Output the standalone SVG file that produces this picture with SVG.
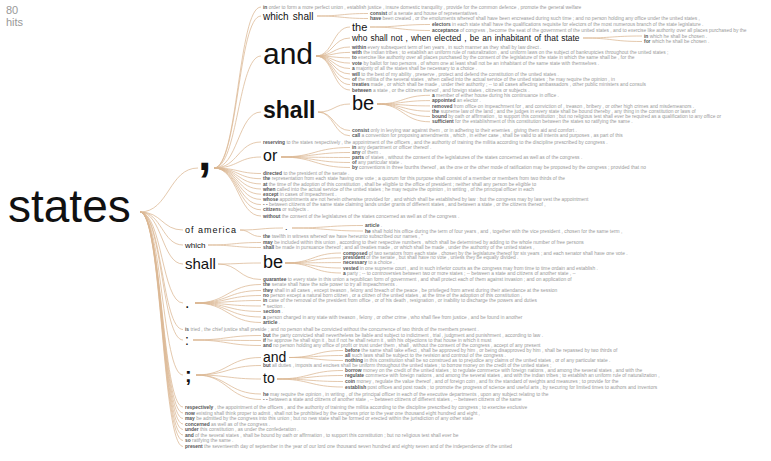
<svg xmlns="http://www.w3.org/2000/svg" width="771" height="461" viewBox="0 0 771 461">
<style>
text{font-family:"Liberation Sans",Arial,sans-serif}
.lf{font-size:4.9px;fill:#9a9a9a}
.lf tspan{font-weight:bold;fill:#555}
.nd{fill:#111}
.hits{font-size:11px;fill:#999}
#links path{fill:none;stroke:#dbb894;stroke-width:0.9;stroke-opacity:0.85}
</style>
<rect width="771" height="461" fill="#fff"/>
<text class="hits" x="6" y="14">80</text>
<text class="hits" x="6" y="26">hits</text>
<g id="links">
<path d="M140,212C169,212 169,168 198,168"/>
<path d="M140,212C162,212 162,230 183,230"/>
<path d="M140,212C162,212 162,245 183,245"/>
<path d="M140,212C162,212 162,264 183,264"/>
<path d="M140,212C162,212 162,303 183,303"/>
<path d="M140,212C162,212 162,329.5 183,329.5"/>
<path d="M140,212C162,212 162,340 183,340"/>
<path d="M140,212C162,212 162,375 183,375"/>
<path d="M140,212C162,212 162,407 183,407"/>
<path d="M140,212C162,212 162,413 183,413"/>
<path d="M140,212C162,212 162,418.5 183,418.5"/>
<path d="M140,212C162,212 162,424 183,424"/>
<path d="M140,212C162,212 162,429.5 183,429.5"/>
<path d="M140,212C162,212 162,435 183,435"/>
<path d="M140,212C162,212 162,440.5 183,440.5"/>
<path d="M140,212C162,212 162,446.5 183,446.5"/>
<path d="M214,168C238,168 238,7 261,7"/>
<path d="M214,168C238,168 238,16 261,16"/>
<path d="M214,168C238,168 238,56 261,56"/>
<path d="M214,168C238,168 238,112 261,112"/>
<path d="M214,168C238,168 238,142 261,142"/>
<path d="M214,168C238,168 238,157 261,157"/>
<path d="M214,168C238,168 238,173.5 261,173.5"/>
<path d="M214,168C238,168 238,178.7 261,178.7"/>
<path d="M214,168C238,168 238,183.9 261,183.9"/>
<path d="M214,168C238,168 238,189 261,189"/>
<path d="M214,168C238,168 238,194.2 261,194.2"/>
<path d="M214,168C238,168 238,199.4 261,199.4"/>
<path d="M214,168C238,168 238,204.6 261,204.6"/>
<path d="M214,168C238,168 238,209.8 261,209.8"/>
<path d="M214,168C238,168 238,216 261,216"/>
<path d="M317,16C342,16 342,13.5 368,13.5"/>
<path d="M317,16C342,16 342,18.5 368,18.5"/>
<path d="M316,56C333,56 333,27 350,27"/>
<path d="M316,56C333,56 333,38 350,38"/>
<path d="M316,56C333,56 333,47 350,47"/>
<path d="M316,56C333,56 333,52.4 350,52.4"/>
<path d="M316,56C333,56 333,57.8 350,57.8"/>
<path d="M316,56C333,56 333,63.1 350,63.1"/>
<path d="M316,56C333,56 333,68.5 350,68.5"/>
<path d="M316,56C333,56 333,73.9 350,73.9"/>
<path d="M316,56C333,56 333,79.3 350,79.3"/>
<path d="M316,56C333,56 333,84.6 350,84.6"/>
<path d="M316,56C333,56 333,90 350,90"/>
<path d="M370,27C400,27 400,24.5 430,24.5"/>
<path d="M370,27C400,27 400,30.5 430,30.5"/>
<path d="M583,38C612,38 612,36 642,36"/>
<path d="M583,38C612,38 612,41.5 642,41.5"/>
<path d="M318,112C334,112 334,104 350,104"/>
<path d="M318,112C334,112 334,130.5 350,130.5"/>
<path d="M318,112C334,112 334,135.8 350,135.8"/>
<path d="M377,104C403,104 403,95.3 430,95.3"/>
<path d="M377,104C403,104 403,100.6 430,100.6"/>
<path d="M377,104C403,104 403,105.9 430,105.9"/>
<path d="M377,104C403,104 403,111.2 430,111.2"/>
<path d="M377,104C403,104 403,116.5 430,116.5"/>
<path d="M377,104C403,104 403,121.8 430,121.8"/>
<path d="M281,157C315,157 315,147.5 350,147.5"/>
<path d="M281,157C315,157 315,152.5 350,152.5"/>
<path d="M281,157C315,157 315,157.5 350,157.5"/>
<path d="M281,157C315,157 315,162.5 350,162.5"/>
<path d="M281,157C315,157 315,167.5 350,167.5"/>
<path d="M240,230C261,230 261,228 283,228"/>
<path d="M240,230C250,230 250,236.5 261,236.5"/>
<path d="M292,228C327,228 327,225.5 363,225.5"/>
<path d="M292,228C327,228 327,231 363,231"/>
<path d="M208,245C234,245 234,242.5 261,242.5"/>
<path d="M208,245C234,245 234,247.5 261,247.5"/>
<path d="M218,264C239,264 239,263 261,263"/>
<path d="M218,264C239,264 239,279.5 261,279.5"/>
<path d="M285,263C313,263 313,253 341,253"/>
<path d="M285,263C313,263 313,257.8 341,257.8"/>
<path d="M285,263C313,263 313,262.6 341,262.6"/>
<path d="M285,263C313,263 313,268 341,268"/>
<path d="M285,263C313,263 313,273 341,273"/>
<path d="M195,303C228,303 228,284.5 261,284.5"/>
<path d="M195,303C228,303 228,290.5 261,290.5"/>
<path d="M195,303C228,303 228,295.5 261,295.5"/>
<path d="M195,303C228,303 228,300.5 261,300.5"/>
<path d="M195,303C228,303 228,306 261,306"/>
<path d="M195,303C228,303 228,311.5 261,311.5"/>
<path d="M195,303C228,303 228,317 261,317"/>
<path d="M195,303C228,303 228,322.5 261,322.5"/>
<path d="M193,340C227,340 227,335.5 261,335.5"/>
<path d="M193,340C227,340 227,340.5 261,340.5"/>
<path d="M193,340C227,340 227,345.5 261,345.5"/>
<path d="M196,375C228,375 228,357.5 261,357.5"/>
<path d="M196,375C228,375 228,365.5 261,365.5"/>
<path d="M196,375C228,375 228,379 261,379"/>
<path d="M196,375C228,375 228,394 261,394"/>
<path d="M196,375C228,375 228,399.5 261,399.5"/>
<path d="M289,357.5C316,357.5 316,350.5 343,350.5"/>
<path d="M289,357.5C316,357.5 316,355.5 343,355.5"/>
<path d="M289,357.5C316,357.5 316,360.5 343,360.5"/>
<path d="M277,379C310,379 310,370.5 343,370.5"/>
<path d="M277,379C310,379 310,375.5 343,375.5"/>
<path d="M277,379C310,379 310,381.5 343,381.5"/>
<path d="M277,379C310,379 310,387 343,387"/>
</g>
<g id="n-states"><text class="nd" x="8" y="222" font-size="46">states</text></g>
<g id="n-comma"><text class="nd" x="198" y="170" font-size="48" font-weight="bold">,</text></g>
<g id="n-which-shall"><text class="nd" x="263" y="19.5" font-size="10" word-spacing="1.5">which shall</text></g>
<g id="n-and"><text class="nd" x="263" y="64" font-size="30">and</text></g>
<g id="n-the"><text class="nd" x="352" y="30.5" font-size="11">the</text></g>
<g id="n-who"><text class="nd" x="352" y="41" font-size="8.4" word-spacing="0.8">who shall not , when elected , be an inhabitant of that state</text></g>
<g id="n-shall-1"><text class="nd" x="263" y="118" font-size="23" font-weight="bold">shall</text></g>
<g id="n-be-1"><text class="nd" x="352" y="110" font-size="20">be</text></g>
<g id="n-or"><text class="nd" x="263" y="161" font-size="16">or</text></g>
<g id="n-of-america"><text class="nd" x="185" y="233" font-size="9" letter-spacing="1">of america</text></g>
<g id="n-dot-2"><text class="nd" x="285" y="230" font-size="9">.</text></g>
<g id="n-which"><text x="185" y="248" font-size="8" fill="#111">which</text></g>
<g id="n-shall-2"><text class="nd" x="185" y="269" font-size="15">shall</text></g>
<g id="n-be-2"><text class="nd" x="263" y="268" font-size="18">be</text></g>
<g id="n-dot"><text class="nd" x="185" y="308" font-size="16">.</text></g>
<g id="n-colon"><text class="nd" x="185" y="345" font-size="14">:</text></g>
<g id="n-semicolon"><text class="nd" x="185" y="382" font-size="20" font-weight="bold">;</text></g>
<g id="n-and-2"><text class="nd" x="263" y="361.5" font-size="14">and</text></g>
<g id="n-to"><text class="nd" x="263" y="383" font-size="14">to</text></g>
<g id="leaf-01"><text class="lf" x="263" y="8.6"><tspan>in</tspan> order to form a more perfect union , establish justice , insure domestic tranquility , provide for the common defence , promote the general welfare</text></g>
<g id="leaf-02"><text class="lf" x="370" y="15.1"><tspan>consist</tspan> of a senate and house of representatives .</text></g>
<g id="leaf-03"><text class="lf" x="370" y="20.1"><tspan>have</tspan> been created , or the emoluments whereof shall have been encreased during such time ; and no person holding any office under the united states ,</text></g>
<g id="leaf-04"><text class="lf" x="432" y="26.1"><tspan>electors</tspan> in each state shall have the qualifications requisite for electors of the most numerous branch of the state legislature .</text></g>
<g id="leaf-05"><text class="lf" x="432" y="32.1"><tspan>acceptance</tspan> of congress , become the seat of the government of the united states , and to exercise like authority over all places purchased by the</text></g>
<g id="leaf-06"><text class="lf" x="644" y="37.6"><tspan>in</tspan> which he shall be chosen .</text></g>
<g id="leaf-07"><text class="lf" x="644" y="43.1"><tspan>for</tspan> which he shall be chosen .</text></g>
<g id="leaf-08"><text class="lf" x="352" y="48.6"><tspan>within</tspan> every subsequent term of ten years , in such manner as they shall by law direct .</text></g>
<g id="leaf-09"><text class="lf" x="352" y="54"><tspan>with</tspan> the indian tribes ; to establish an uniform rule of naturalization , and uniform laws on the subject of bankruptcies throughout the united states ;</text></g>
<g id="leaf-10"><text class="lf" x="352" y="59.4"><tspan>to</tspan> exercise like authority over all places purchased by the consent of the legislature of the state in which the same shall be , for the</text></g>
<g id="leaf-11"><text class="lf" x="352" y="64.7"><tspan>vote</tspan> by ballot for two persons , of whom one at least shall not be an inhabitant of the same state with themselves .</text></g>
<g id="leaf-12"><text class="lf" x="352" y="70.1"><tspan>a</tspan> majority of all the states shall be necessary to a choice .</text></g>
<g id="leaf-13"><text class="lf" x="352" y="75.5"><tspan>will</tspan> to the best of my ability , preserve , protect and defend the constitution of the united states .</text></g>
<g id="leaf-14"><text class="lf" x="352" y="80.9"><tspan>of</tspan> the militia of the several states , when called into the actual service of the united states ; he may require the opinion , in</text></g>
<g id="leaf-15"><text class="lf" x="352" y="86.2"><tspan>treaties</tspan> made , or which shall be made , under their authority ; -- to all cases affecting ambassadors , other public ministers and consuls</text></g>
<g id="leaf-16"><text class="lf" x="352" y="91.6"><tspan>between</tspan> a state , or the citizens thereof , and foreign states , citizens or subjects .</text></g>
<g id="leaf-17"><text class="lf" x="432" y="96.9"><tspan>a</tspan> member of either house during his continuance in office .</text></g>
<g id="leaf-18"><text class="lf" x="432" y="102.2"><tspan>appointed</tspan> an elector .</text></g>
<g id="leaf-19"><text class="lf" x="432" y="107.5"><tspan>removed</tspan> from office on impeachment for , and conviction of , treason , bribery , or other high crimes and misdemeanors .</text></g>
<g id="leaf-20"><text class="lf" x="432" y="112.8"><tspan>the</tspan> supreme law of the land ; and the judges in every state shall be bound thereby , any thing in the constitution or laws of</text></g>
<g id="leaf-21"><text class="lf" x="432" y="118.1"><tspan>bound</tspan> by oath or affirmation , to support this constitution ; but no religious test shall ever be required as a qualification to any office or</text></g>
<g id="leaf-22"><text class="lf" x="432" y="123.4"><tspan>sufficient</tspan> for the establishment of this constitution between the states so ratifying the same .</text></g>
<g id="leaf-23"><text class="lf" x="352" y="132.1"><tspan>consist</tspan> only in levying war against them , or in adhering to their enemies , giving them aid and comfort .</text></g>
<g id="leaf-24"><text class="lf" x="352" y="137.4"><tspan>call</tspan> a convention for proposing amendments , which , in either case , shall be valid to all intents and purposes , as part of this</text></g>
<g id="leaf-25"><text class="lf" x="263" y="143.6"><tspan>reserving</tspan> to the states respectively , the appointment of the officers , and the authority of training the militia according to the discipline prescribed by congress .</text></g>
<g id="leaf-26"><text class="lf" x="352" y="149.1"><tspan>in</tspan> any department or officer thereof .</text></g>
<g id="leaf-27"><text class="lf" x="352" y="154.1"><tspan>any</tspan> of them .</text></g>
<g id="leaf-28"><text class="lf" x="352" y="159.1"><tspan>parts</tspan> of states , without the consent of the legislatures of the states concerned as well as of the congress .</text></g>
<g id="leaf-29"><text class="lf" x="352" y="164.1"><tspan>of</tspan> any particular state .</text></g>
<g id="leaf-30"><text class="lf" x="352" y="169.1"><tspan>by</tspan> conventions in three fourths thereof , as the one or the other mode of ratification may be proposed by the congress ; provided that no</text></g>
<g id="leaf-31"><text class="lf" x="263" y="175.1"><tspan>directed</tspan> to the president of the senate .</text></g>
<g id="leaf-32"><text class="lf" x="263" y="180.3"><tspan>the</tspan> representation from each state having one vote ; a quorum for this purpose shall consist of a member or members from two thirds of the</text></g>
<g id="leaf-33"><text class="lf" x="263" y="185.5"><tspan>at</tspan> the time of the adoption of this constitution , shall be eligible to the office of president ; neither shall any person be eligible to</text></g>
<g id="leaf-34"><text class="lf" x="263" y="190.6"><tspan>when</tspan> called into the actual service of the united states ; he may require the opinion , in writing , of the principal officer in each</text></g>
<g id="leaf-35"><text class="lf" x="263" y="195.8"><tspan>except</tspan> in cases of impeachment .</text></g>
<g id="leaf-36"><text class="lf" x="263" y="201"><tspan>whose</tspan> appointments are not herein otherwise provided for , and which shall be established by law : but the congress may by law vest the appointment</text></g>
<g id="leaf-37"><text class="lf" x="263" y="206.2"><tspan>- -</tspan> between citizens of the same state claiming lands under grants of different states , and between a state , or the citizens thereof ,</text></g>
<g id="leaf-38"><text class="lf" x="263" y="211.4"><tspan>citizens</tspan> or subjects .</text></g>
<g id="leaf-39"><text class="lf" x="263" y="217.6"><tspan>without</tspan> the consent of the legislatures of the states concerned as well as of the congress .</text></g>
<g id="leaf-40"><text class="lf" x="365" y="227.1"><tspan>article</tspan> .</text></g>
<g id="leaf-41"><text class="lf" x="365" y="232.6"><tspan>he</tspan> shall hold his office during the term of four years , and , together with the vice president , chosen for the same term ,</text></g>
<g id="leaf-42"><text class="lf" x="263" y="238.1"><tspan>the</tspan> twelfth in witness whereof we have hereunto subscribed our names , "</text></g>
<g id="leaf-43"><text class="lf" x="263" y="244.1"><tspan>may</tspan> be included within this union , according to their respective numbers , which shall be determined by adding to the whole number of free persons</text></g>
<g id="leaf-44"><text class="lf" x="263" y="249.1"><tspan>shall</tspan> be made in pursuance thereof ; and all treaties made , or which shall be made , under the authority of the united states ,</text></g>
<g id="leaf-45"><text class="lf" x="343" y="254.6"><tspan>composed</tspan> of two senators from each state , chosen by the legislature thereof for six years ; and each senator shall have one vote .</text></g>
<g id="leaf-46"><text class="lf" x="343" y="259.4"><tspan>president</tspan> of the senate , but shall have no vote , unless they be equally divided .</text></g>
<g id="leaf-47"><text class="lf" x="343" y="264.2"><tspan>necessary</tspan> to a choice .</text></g>
<g id="leaf-48"><text class="lf" x="343" y="269.6"><tspan>vested</tspan> in one supreme court , and in such inferior courts as the congress may from time to time ordain and establish .</text></g>
<g id="leaf-49"><text class="lf" x="343" y="274.6"><tspan>a</tspan> party ; -- to controversies between two or more states ; -- between a state and citizens of another state , --</text></g>
<g id="leaf-50"><text class="lf" x="263" y="281.1"><tspan>guarantee</tspan> to every state in this union a republican form of government , and shall protect each of them against invasion ; and on application of</text></g>
<g id="leaf-51"><text class="lf" x="263" y="286.1"><tspan>the</tspan> senate shall have the sole power to try all impeachments .</text></g>
<g id="leaf-52"><text class="lf" x="263" y="292.1"><tspan>they</tspan> shall in all cases , except treason , felony and breach of the peace , be privileged from arrest during their attendance at the session</text></g>
<g id="leaf-53"><text class="lf" x="263" y="297.1"><tspan>no</tspan> person except a natural born citizen , or a citizen of the united states , at the time of the adoption of this constitution ,</text></g>
<g id="leaf-54"><text class="lf" x="263" y="302.1"><tspan>in</tspan> case of the removal of the president from office , or of his death , resignation , or inability to discharge the powers and duties</text></g>
<g id="leaf-55"><text class="lf" x="263" y="307.6"><tspan>"</tspan> section .</text></g>
<g id="leaf-56"><text class="lf" x="263" y="313.1"><tspan>section</tspan> .</text></g>
<g id="leaf-57"><text class="lf" x="263" y="318.6"><tspan>a</tspan> person charged in any state with treason , felony , or other crime , who shall flee from justice , and be found in another</text></g>
<g id="leaf-58"><text class="lf" x="263" y="324.1"><tspan>article</tspan> .</text></g>
<g id="leaf-59"><text class="lf" x="185" y="331.1"><tspan>is</tspan> tried , the chief justice shall preside ; and no person shall be convicted without the concurrence of two thirds of the members present .</text></g>
<g id="leaf-60"><text class="lf" x="263" y="337.1"><tspan>but</tspan> the party convicted shall nevertheless be liable and subject to indictment , trial , judgment and punishment , according to law .</text></g>
<g id="leaf-61"><text class="lf" x="263" y="342.1"><tspan>if</tspan> he approve he shall sign it , but if not he shall return it , with his objections to that house in which it must</text></g>
<g id="leaf-62"><text class="lf" x="263" y="347.1"><tspan>and</tspan> no person holding any office of profit or trust under them , shall , without the consent of the congress , accept of any present</text></g>
<g id="leaf-63"><text class="lf" x="345" y="352.1"><tspan>before</tspan> the same shall take effect , shall be approved by him , or being disapproved by him , shall be repassed by two thirds of</text></g>
<g id="leaf-64"><text class="lf" x="345" y="357.1"><tspan>all</tspan> such laws shall be subject to the revision and controul of the congress .</text></g>
<g id="leaf-65"><text class="lf" x="345" y="362.1"><tspan>nothing</tspan> in this constitution shall be so construed as to prejudice any claims of the united states , or of any particular state .</text></g>
<g id="leaf-66"><text class="lf" x="263" y="367.1"><tspan>but</tspan> all duties , imposts and excises shall be uniform throughout the united states ; to borrow money on the credit of the united states ;</text></g>
<g id="leaf-67"><text class="lf" x="345" y="372.1"><tspan>borrow</tspan> money on the credit of the united states ; to regulate commerce with foreign nations , and among the several states , and with the</text></g>
<g id="leaf-68"><text class="lf" x="345" y="377.1"><tspan>regulate</tspan> commerce with foreign nations , and among the several states , and with the indian tribes ; to establish an uniform rule of naturalization ,</text></g>
<g id="leaf-69"><text class="lf" x="345" y="383.1"><tspan>coin</tspan> money , regulate the value thereof , and of foreign coin , and fix the standard of weights and measures ; to provide for the</text></g>
<g id="leaf-70"><text class="lf" x="345" y="388.6"><tspan>establish</tspan> post offices and post roads ; to promote the progress of science and useful arts , by securing for limited times to authors and inventors</text></g>
<g id="leaf-71"><text class="lf" x="263" y="395.6"><tspan>he</tspan> may require the opinion , in writing , of the principal officer in each of the executive departments , upon any subject relating to the</text></g>
<g id="leaf-72"><text class="lf" x="263" y="401.1"><tspan>- -</tspan> between a state and citizens of another state , -- between citizens of different states , -- between citizens of the same</text></g>
<g id="leaf-73"><text class="lf" x="185" y="408.6"><tspan>respectively</tspan> , the appointment of the officers , and the authority of training the militia according to the discipline prescribed by congress ; to exercise exclusive</text></g>
<g id="leaf-74"><text class="lf" x="185" y="414.6"><tspan>now</tspan> existing shall think proper to admit , shall not be prohibited by the congress prior to the year one thousand eight hundred and eight ,</text></g>
<g id="leaf-75"><text class="lf" x="185" y="420.1"><tspan>may</tspan> be admitted by the congress into this union ; but no new state shall be formed or erected within the jurisdiction of any other state</text></g>
<g id="leaf-76"><text class="lf" x="185" y="425.6"><tspan>concerned</tspan> as well as of the congress .</text></g>
<g id="leaf-77"><text class="lf" x="185" y="431.1"><tspan>under</tspan> this constitution , as under the confederation .</text></g>
<g id="leaf-78"><text class="lf" x="185" y="436.6"><tspan>and</tspan> of the several states , shall be bound by oath or affirmation , to support this constitution ; but no religious test shall ever be</text></g>
<g id="leaf-79"><text class="lf" x="185" y="442.1"><tspan>so</tspan> ratifying the same .</text></g>
<g id="leaf-80"><text class="lf" x="185" y="448.1"><tspan>present</tspan> the seventeenth day of september in the year of our lord one thousand seven hundred and eighty seven and of the independence of the united</text></g>
</svg>
